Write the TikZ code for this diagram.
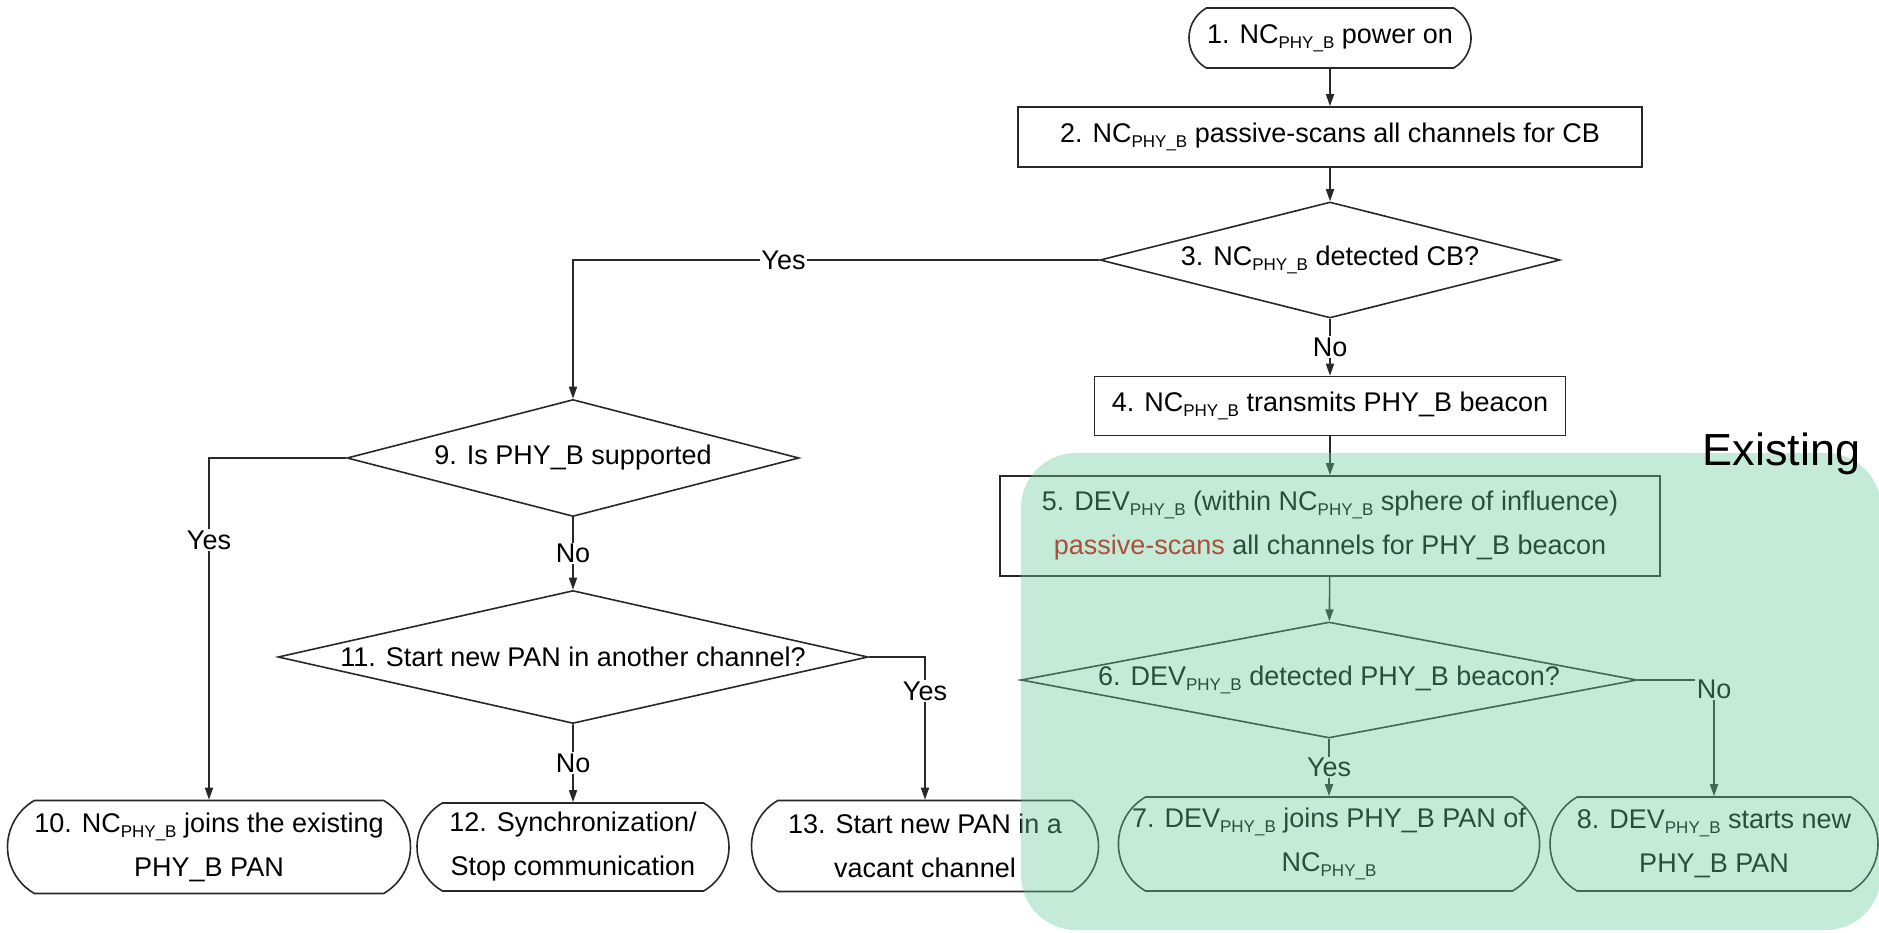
\documentclass[tikz,border=0pt]{standalone}
\usepackage{fontspec}
\setmainfont{Liberation Sans}
\usetikzlibrary{shapes.geometric,shapes.misc,arrows.meta}
\definecolor{linec}{RGB}{40,40,40}
\definecolor{overlaygreen}{RGB}{103,205,154}
\definecolor{redtxt}{RGB}{215,0,0}
\newcommand{\subPB}{\raisebox{-5pt}{\fontsize{17}{17}\selectfont PHY\_B}}
\newcommand{\PB}{PHY\_B}
\begin{document}
\begin{tikzpicture}[x=1pt,y=-1pt,
  every node/.style={font=\fontsize{27}{44}\selectfont, text=black},
  box/.style={draw=linec, line width=1.6pt, rectangle, align=center, inner sep=0pt},
  term/.style={draw=linec, line width=1.6pt, rounded rectangle, rounded rectangle arc length=120, align=center, inner sep=0pt},
  dia/.style={draw=linec, line width=1.6pt, diamond, inner sep=0pt},
  conn/.style={draw=linec, line width=1.6pt, -{Triangle[length=12pt,width=8pt]}},
  lab/.style={fill=white, inner sep=1.5pt}
]
\useasboundingbox (0,0) rectangle (1879,933);
\fill[white] (0,0) rectangle (1879,933);

% right column
\node[term, minimum width=282pt, minimum height=60pt] (n1) at (1330,38) {1. NC\subPB\ power on};
\node[box, minimum width=624pt, minimum height=60pt] (n2) at (1330,137) {2. NC\subPB\ passive-scans all channels for CB};
\node[dia, minimum width=460pt, minimum height=116pt] (d3) at (1330,260) {};
\node (t3) at (d3) {3. NC\subPB\ detected CB?};
\node[box, minimum width=471pt, minimum height=59pt] (n4) at (1330,406) {4. NC\subPB\ transmits \PB\ beacon};
\node[box, minimum width=660pt, minimum height=100pt] (n5) at (1330,526) {5. DEV\subPB\ (within NC\subPB\ sphere of influence)\\\textcolor{redtxt}{passive-scans} all channels for \PB\ beacon};
\node[dia, minimum width=616pt, minimum height=116pt] (d6) at (1329,680) {};
\node (t6) at (d6) {6. DEV\subPB\ detected \PB\ beacon?};
\node[term, minimum width=404pt, minimum height=94pt] (n7) at (1329,844) {7. DEV\subPB\ joins \PB\ PAN of\\NC\subPB};
\node[term, minimum width=328pt, minimum height=94pt] (n8) at (1714,844) {8. DEV\subPB\ starts new\\\PB\ PAN};

% left part
\node[dia, minimum width=452pt, minimum height=117pt] (d9) at (573,458) {};
\node (t9) at (d9) {9. Is \PB\ supported};
\node[term, minimum width=403pt, minimum height=93pt] (n10) at (209,847) {10. NC\subPB\ joins the existing\\\PB\ PAN};
\node[dia, minimum width=590pt, minimum height=133pt] (d11) at (573,657) {};
\node (t11) at (d11) {11. Start new PAN in another channel?};
\node[term, minimum width=312pt, minimum height=88pt] (n12) at (573,847) {12. Synchronization/\\Stop communication};
\node[term, minimum width=347pt, minimum height=91pt] (n13) at (925,846) {13. Start new PAN in a\\vacant channel};

% connectors
\draw[conn] (n1) -- (n2);
\draw[conn] (n2) -- (d3);
\draw[conn] (d3) -- node[lab]{No} (n4);
\draw[conn] (d3.west) -| node[lab,pos=0.3]{Yes} (d9.north);
\draw[conn] (d9.west) -| node[lab,pos=0.62]{Yes} (n10.north);
\draw[conn] (d9) -- node[lab]{No} (d11);
\draw[conn] (d11.east) -| node[lab,pos=0.62]{Yes} (n13.north);
\draw[conn] (d11) -- node[lab]{No} (n12);
\draw[conn] (n4) -- (n5);
\draw[conn] (n5) -- (d6);
\draw[conn] (d6) -- node[lab]{Yes} (n7);
\draw[conn] (d6.east) -| node[lab,pos=0.54]{No} (n8.north);

% existing region overlay
\fill[overlaygreen, opacity=0.39, rounded corners=55pt] (1021,453) rectangle (1881,930);
\node[anchor=base west, font=\fontsize{45}{45}\selectfont] (ex) at (1699,465) {Existing};
\end{tikzpicture}
\end{document}
